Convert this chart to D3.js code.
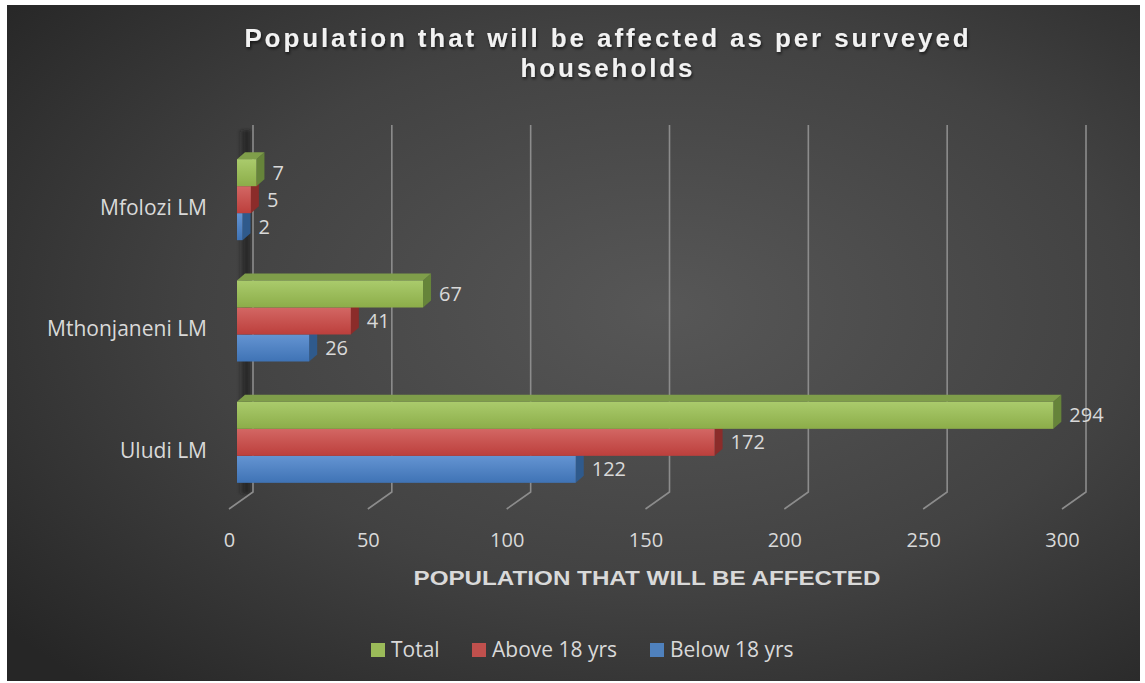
<!DOCTYPE html>
<html><head><meta charset="utf-8">
<script src="https://cdn.jsdelivr.net/npm/d3@7"></script>
<style>html,body{margin:0;padding:0;background:#fff;}svg{display:block;}</style>
</head><body>
<svg id="chart" width="1145" height="683"></svg>
<script>
const categories = ["Mfolozi LM", "Mthonjaneni LM", "Uludi LM"];
const seriesNames = ["Total", "Above 18 yrs", "Below 18 yrs"];
const total = [7, 67, 294];
const above18 = [5, 41, 172];
const below18 = [2, 26, 122];
const tickValues = [0, 50, 100, 150, 200, 250, 300];
const titleLines = ["Population that will be affected as per surveyed", "households"];
const axisTitle = "POPULATION THAT WILL BE AFFECTED";

const seriesVals = [total, above18, below18];
const colors = [
  {name:"g", base:"#9bbb59", top:"#7f9e4a", light:"#aacb6c", dark:"#8cad49", side:"#66843a"},
  {name:"r", base:"#c0504d", top:"#a84340", light:"#d36764", dark:"#bc3f3c", side:"#8b2c2a"},
  {name:"b", base:"#4f81bd", top:"#3d6aa0", light:"#6494d2", dark:"#3f73b5", side:"#2f5a8c"}
];
const FONT = "'Open Sans', sans-serif";

const svg = d3.select("#chart");
const defs = svg.append("defs");

// background
const bg = defs.append("radialGradient").attr("id","bg")
  .attr("cx","58%").attr("cy","45%").attr("r","75%").attr("fx","58%").attr("fy","45%");
bg.append("stop").attr("offset","0%").attr("stop-color","#575757");
bg.append("stop").attr("offset","55%").attr("stop-color","#424242");
bg.append("stop").attr("offset","100%").attr("stop-color","#262626");
svg.append("rect").attr("x",7).attr("y",5).attr("width",1133).attr("height",676).attr("fill","url(#bg)");

colors.forEach(c => {
  const lg = defs.append("linearGradient").attr("id","front-"+c.name).attr("x1",0).attr("y1",0).attr("x2",0).attr("y2",1);
  lg.append("stop").attr("offset","0%").attr("stop-color",c.light);
  lg.append("stop").attr("offset","100%").attr("stop-color",c.dark);
});
const wallG = defs.append("linearGradient").attr("id","wall").attr("x1",0).attr("y1",0).attr("x2",1).attr("y2",0);
wallG.append("stop").attr("offset","0%").attr("stop-color","#1a1a1a").attr("stop-opacity",0);
wallG.append("stop").attr("offset","70%").attr("stop-color","#1a1a1a").attr("stop-opacity",0.8);
wallG.append("stop").attr("offset","100%").attr("stop-color","#1a1a1a").attr("stop-opacity",0.3);
const blur = defs.append("filter").attr("id","soft").attr("x","-50%").attr("y","-5%").attr("width","200%").attr("height","110%");
blur.append("feGaussianBlur").attr("stdDeviation",1.5);
const sh = defs.append("filter").attr("id","tshadow").attr("x","-10%").attr("y","-30%").attr("width","120%").attr("height","160%");
sh.append("feDropShadow").attr("dx",1).attr("dy",2).attr("stdDeviation",1.5).attr("flood-color","#000").attr("flood-opacity",0.6);

// scales
const x = d3.scaleLinear().domain([0,300]).range([0,833]);
const backX0 = 253, frontX0 = 229, barX0 = 237;
const wallTop = 125, wallBottom = 492, floorFront = 509;
const y = d3.scaleBand().domain(categories).range([139, 503]).paddingInner(0).paddingOuter(0);
const barH = 27, depthX = 8, depthY = 7;

// left wall shadow stripe
svg.append("rect").attr("x",238).attr("y",130).attr("width",13).attr("height",wallBottom-130+2)
  .attr("fill","url(#wall)").attr("filter","url(#soft)");

// gridlines
const grid = svg.append("g");
tickValues.forEach(v => {
  grid.append("path")
    .attr("d", `M${backX0 + x(v)},${wallTop} L${backX0 + x(v)},${wallBottom} L${frontX0 + x(v)},${floorFront}`)
    .attr("fill","none").attr("stroke","#8c8c8c").attr("stroke-width",1.6);
});

// tick labels
const ax = svg.append("g").attr("transform",`translate(${frontX0},540)`);
ax.call(d3.axisBottom(x).tickValues(tickValues).tickSize(0).tickPadding(0).tickFormat(d3.format("d")))
  .call(g => g.select(".domain").remove())
  .selectAll("text").attr("fill","#d9d9d9").attr("font-family",FONT).attr("font-size",20).attr("dy","0.35em");

// bars
const bars = svg.append("g");
categories.forEach((cat, ci) => {
  const cTop = y(cat) + (y.bandwidth() - 3*barH)/2;
  for (let si = 2; si >= 0; si--) {
    const v = seriesVals[si][ci];
    const c = colors[si];
    const y0 = cTop + si*barH, y1 = y0 + barH;
    const xe = barX0 + x(v);
    const g = bars.append("g");
    g.append("path").attr("d",`M${xe},${y0} L${xe+depthX},${y0-depthY} L${xe+depthX},${y1-depthY} L${xe},${y1} Z`).attr("fill",c.side);
    if (si === 0) {
      g.append("path").attr("d",`M${barX0},${y0} L${barX0+depthX},${y0-depthY} L${xe+depthX},${y0-depthY} L${xe},${y0} Z`).attr("fill",c.top);
    }
    g.append("rect").attr("x",barX0).attr("y",y0).attr("width",x(v)).attr("height",barH).attr("fill",`url(#front-${c.name})`);
    svg.append("text").attr("x",xe+depthX+8).attr("y",y0+barH/2).attr("dy","0.35em")
      .attr("fill","#d9d9d9").attr("font-family",FONT).attr("font-size",20).text(v);
  }
});

// category labels
categories.forEach(cat => {
  svg.append("text").attr("x",207).attr("y",y(cat)+y.bandwidth()/2+8).attr("dy","0.35em").attr("text-anchor","end")
    .attr("fill","#d9d9d9").attr("font-family",FONT).attr("font-size",21).text(cat);
});

// title
titleLines.forEach((t,i) => {
  svg.append("text").attr("x",608).attr("y",47 + i*30).attr("text-anchor","middle")
    .attr("fill","#f2f2f2").attr("font-family","'Liberation Sans', Arial, sans-serif").attr("font-weight","bold")
    .attr("font-size",26).attr("letter-spacing","2.9px").attr("filter","url(#tshadow)").text(t);
});

// axis title
svg.append("text").attr("x",647).attr("y",585).attr("text-anchor","middle")
  .attr("fill","#d9d9d9").attr("font-family","'Liberation Sans', Arial, sans-serif").attr("font-weight","bold")
  .attr("font-size",21).attr("textLength",467).attr("lengthAdjust","spacingAndGlyphs").text(axisTitle);

// legend
const legendX = [371, 472, 650];
seriesNames.forEach((n,i) => {
  svg.append("rect").attr("x",legendX[i]).attr("y",643).attr("width",14).attr("height",14).attr("fill",colors[i].base);
  svg.append("text").attr("x",legendX[i]+20).attr("y",650).attr("dy","0.35em")
    .attr("fill","#d9d9d9").attr("font-family",FONT).attr("font-size",21).text(n);
});
</script>
</body></html>
